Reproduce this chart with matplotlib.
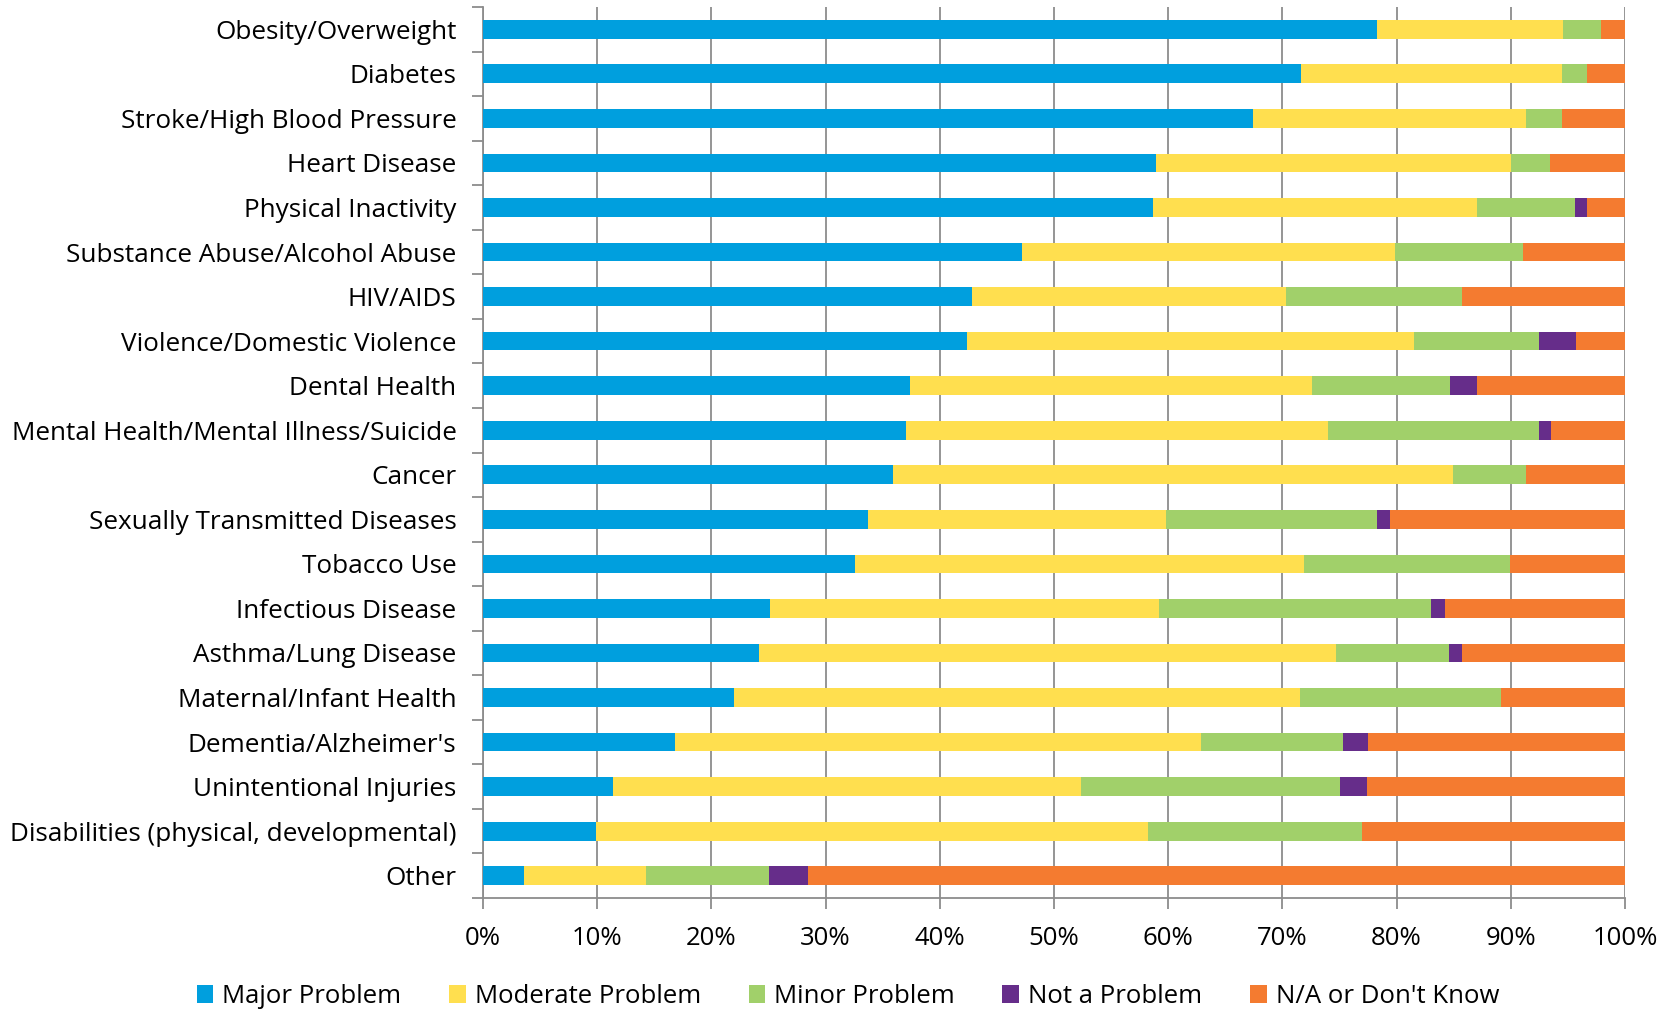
import numpy as np
import matplotlib.pyplot as plt

plt.rcParams['font.family'] = ['Open Sans', 'DejaVu Sans']

categories = [
    "Obesity/Overweight", "Diabetes", "Stroke/High Blood Pressure", "Heart Disease",
    "Physical Inactivity", "Substance Abuse/Alcohol Abuse", "HIV/AIDS",
    "Violence/Domestic Violence", "Dental Health", "Mental Health/Mental Illness/Suicide",
    "Cancer", "Sexually Transmitted Diseases", "Tobacco Use", "Infectious Disease",
    "Asthma/Lung Disease", "Maternal/Infant Health", "Dementia/Alzheimer's",
    "Unintentional Injuries", "Disabilities (physical, developmental)", "Other",
]

major = [78.3, 71.6, 67.4, 58.9, 58.7, 47.2, 42.8, 42.4, 37.4, 37.0,
         35.9, 33.7, 32.6, 25.1, 24.2, 22.0, 16.8, 11.4, 9.9, 3.6]
moderate = [16.3, 22.9, 23.9, 31.1, 28.3, 32.7, 27.5, 39.1, 35.2, 37.0,
            49.0, 26.1, 39.3, 34.1, 50.5, 49.5, 46.1, 41.0, 48.3, 10.7]
minor = [3.3, 2.2, 3.2, 3.4, 8.6, 11.2, 15.4, 11.0, 12.1, 18.5,
         6.4, 18.5, 18.0, 23.8, 9.9, 17.6, 12.4, 22.6, 18.8, 10.7]
not_problem = [0, 0, 0, 0, 1.1, 0, 0, 3.2, 2.3, 1.0,
               0, 1.1, 0, 1.2, 1.1, 0, 2.2, 2.4, 0, 3.5]
na = [100 - a - b - c - d for a, b, c, d in zip(major, moderate, minor, not_problem)]

series = [
    ("Major Problem", major, "#009FDE"),
    ("Moderate Problem", moderate, "#FFDF4F"),
    ("Minor Problem", minor, "#A1D06A"),
    ("Not a Problem", not_problem, "#662D8A"),
    ("N/A or Don't Know", na, "#F47B30"),
]

fig = plt.figure(figsize=(16.69, 10.10), dpi=100)
ax = fig.add_axes([483 / 1669, 1 - 898 / 1010, (1625 - 483) / 1669, (898 - 7) / 1010])

y = np.arange(len(categories))
left = np.zeros(len(categories))
for name, vals, color in series:
    vals = np.array(vals, dtype=float)
    ax.barh(y, vals, left=left, height=0.42, color=color, label=name, zorder=3)
    left += vals

ax.set_ylim(len(categories) - 0.5, -0.5)
ax.set_xlim(0, 100)
ax.set_xticks(np.arange(0, 101, 10))
ax.set_xticklabels([f"{v}%" for v in range(0, 101, 10)], fontsize=18.5)
ax.set_yticks(y)
ax.set_yticklabels(categories, fontsize=18.8)
ax.set_yticks(np.arange(-0.5, len(categories), 1), minor=True)
ax.tick_params(axis='y', which='major', length=0, pad=19)
ax.tick_params(axis='y', which='minor', length=8, color='#8c8c8c', width=1.3)
ax.tick_params(axis='x', length=8, color='#8c8c8c', width=1.3, pad=12)
ax.grid(axis='x', color='#8c8c8c', linewidth=1.3, zorder=0)
for s in ['top', 'right']:
    ax.spines[s].set_visible(False)
for s in ['left', 'bottom']:
    ax.spines[s].set_color('#8c8c8c')
    ax.spines[s].set_linewidth(1.3)

fig.legend(loc='lower center', bbox_to_anchor=(0.508, -0.022), ncol=5, frameon=False,
           fontsize=18.5, handlelength=0.65, handleheight=0.7, handletextpad=0.35,
           columnspacing=1.85)

fig.savefig("out.png", dpi=100)
